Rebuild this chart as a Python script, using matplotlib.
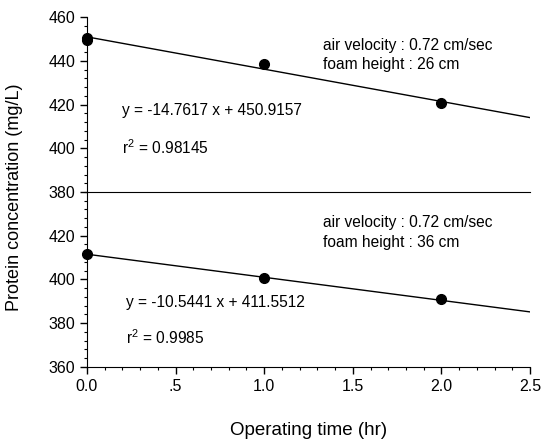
import matplotlib.pyplot as plt
from matplotlib.ticker import MultipleLocator, FuncFormatter
import numpy as np

plt.rcParams['font.family'] = ['Liberation Sans', 'DejaVu Sans']

# foam height 26 cm
t_26 = [0.0, 0.0, 1.0, 2.0]
c_26 = [449.5, 450.6, 438.6, 420.8]
fit_26 = (-14.7617, 450.9157)
r2_26 = 0.98145

# foam height 36 cm
t_36 = [0.0, 1.0, 2.0]
c_36 = [411.8, 400.5, 391.0]
fit_36 = (-10.5441, 411.5512)
r2_36 = 0.9985

fig = plt.figure(figsize=(5.42, 4.4), dpi=100)
l, r = 87 / 542, 530 / 542
ax2 = fig.add_axes([l, 1 - 367 / 440, r - l, 175 / 440])
ax1 = fig.add_axes([l, 1 - 192 / 440, r - l, 175 / 440])
ax1.patch.set_visible(False)
ax2.patch.set_visible(False)

xx = np.linspace(0, 2.5, 50)


def fmt_x(v, pos):
    s = '%.1f' % v
    return s[1:] if s.startswith('0.') and v > 0 else s


for ax, t, c, fit, fh, ylo, ty in [(ax1, t_26, c_26, fit_26, 26, 380, (447.2, 438.2)),
                                   (ax2, t_36, c_36, fit_36, 36, 360, (425.9, 416.8))]:
    ax.plot(xx, fit[0] * xx + fit[1], color='black', lw=1.0)
    ax.plot(t, c, 'o', color='black', ms=7, clip_on=False, zorder=5)
    ax.set_xlim(0, 2.5)
    ax.set_ylim(ylo, ylo + 80)
    ax.spines['top'].set_visible(False)
    ax.spines['right'].set_visible(False)
    ax.yaxis.set_major_locator(MultipleLocator(20))
    ax.yaxis.set_minor_locator(MultipleLocator(4))
    ax.xaxis.set_major_locator(MultipleLocator(0.5))
    ax.xaxis.set_minor_locator(MultipleLocator(0.1))
    ax.xaxis.set_major_formatter(FuncFormatter(fmt_x))
    ax.tick_params(which='major', direction='out', length=5, width=1, labelsize=11.5)
    ax.tick_params(which='minor', direction='out', length=2.5, width=0.8)
    ax.text(1.33, ty[0], 'air velocity : 0.72 cm/sec', fontsize=11.2, va='center')
    ax.text(1.33, ty[1], 'foam height : %d cm' % fh, fontsize=11.2, va='center')

ax1.text(0.2, 417.4, 'y = %.4f x + %.4f' % fit_26, fontsize=11.2, va='center')
ax1.text(0.2, 400.5, '$\\mathregular{r^2}$ = %s' % r2_26, fontsize=11.2, va='center')
ax2.text(0.22, 389.5, 'y = %.4f x + %.4f' % fit_36, fontsize=11.2, va='center')
ax2.text(0.22, 373.2, '$\\mathregular{r^2}$ = %s' % r2_36, fontsize=11.2, va='center')

ax1.tick_params(axis='x', which='both', bottom=False, labelbottom=False)
ax2.set_yticks([360, 380, 400, 420])
ax2.set_xlabel('Operating time (hr)', fontsize=13.5, labelpad=20)
fig.text(15 / 542, 1 - 197 / 440, 'Protein concentration (mg/L)', rotation=90,
         fontsize=13, ha='center', va='center')

fig.savefig('out.png', dpi=100)
